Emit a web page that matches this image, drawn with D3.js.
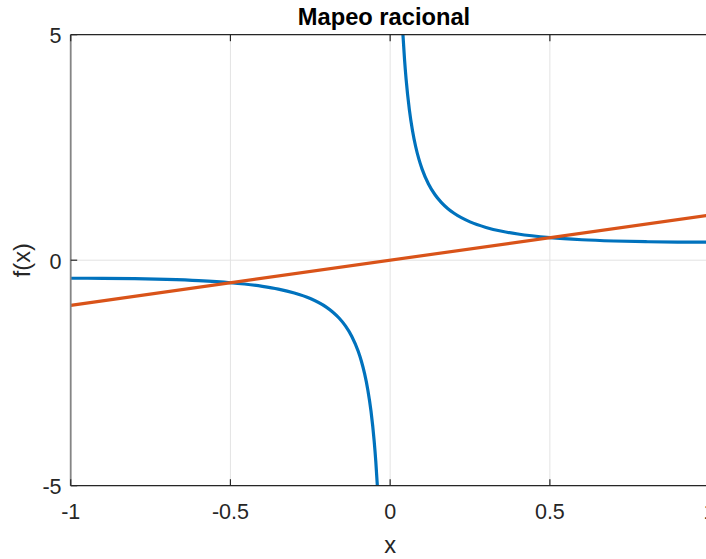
<!DOCTYPE html>
<html>
<head>
<meta charset="utf-8">
<script src="https://cdn.jsdelivr.net/npm/d3@7"></script>
<style>
  html, body { margin: 0; padding: 0; background: #fff; overflow: hidden; }
  svg { display: block; font-family: "Liberation Sans", Arial, Helvetica, sans-serif; }
</style>
</head>
<body>
<svg id="chart" width="706" height="559"></svg>
<script>
// Rational map f(x) sampled on each side of the pole at x = 0
const posX = [0.038, 0.04, 0.045, 0.05, 0.06, 0.07, 0.08, 0.09, 0.1, 0.12, 0.14, 0.16, 0.18, 0.2,
              0.25, 0.3, 0.35, 0.4, 0.5, 0.6, 0.7, 0.8, 0.9, 1.0];
const posY = [5.271, 5.008, 4.453, 4.01, 3.345, 2.871, 2.516, 2.24, 2.02, 1.691, 1.457, 1.282, 1.147, 1.04,
              0.85, 0.727, 0.641, 0.58, 0.5, 0.453, 0.426, 0.41, 0.402, 0.4];
const negX = [-1.0, -0.9, -0.8, -0.7, -0.6, -0.5, -0.4, -0.35, -0.3, -0.25, -0.2, -0.18, -0.16, -0.14,
              -0.12, -0.1, -0.09, -0.08, -0.07, -0.06, -0.05, -0.045, -0.04, -0.038];
const negY = [-0.4, -0.402, -0.41, -0.426, -0.453, -0.5, -0.58, -0.641, -0.727, -0.85, -1.04, -1.147, -1.282, -1.457,
              -1.691, -2.02, -2.24, -2.516, -2.871, -3.345, -4.01, -4.453, -5.008, -5.271];
// Identity line y = x
const idX = [-1, 1];
const idY = [-1, 1];

const xTicks = [-1, -0.5, 0, 0.5, 1];
const yTicks = [-5, 0, 5];
const xTickLabels = ["-1", "-0.5", "0", "0.5", "1"];
const yTickLabels = ["-5", "0", "5"];

const titleText = "Mapeo racional";
const xLabelText = "x";
const yLabelText = "f(x)";

const svg = d3.select("#chart");
const L = 70.7, T = 34.7, R = 709.6, B = 485.7;

const x = d3.scaleLinear().domain([-1, 1]).range([L, R]);
const y = d3.scaleLinear().domain([-5, 5]).range([B, T]);

// grid
const grid = svg.append("g").attr("stroke", "#e3e3e3").attr("stroke-width", 1);
grid.selectAll("line.gx").data(xTicks).join("line")
  .attr("x1", d => x(d)).attr("x2", d => x(d)).attr("y1", T).attr("y2", B);
grid.selectAll("line.gy").data(yTicks).join("line")
  .attr("x1", L).attr("x2", R).attr("y1", d => y(d)).attr("y2", d => y(d));

// clip to the axes box
svg.append("clipPath").attr("id", "plotclip")
  .append("rect").attr("x", L).attr("y", T).attr("width", R - L).attr("height", B - T);

const plot = svg.append("g").attr("clip-path", "url(#plotclip)");
const line = d3.line().x(d => x(d[0])).y(d => y(d[1])).curve(d3.curveMonotoneX);

const branches = [d3.zip(negX, negY), d3.zip(posX, posY)];
plot.selectAll("path.f").data(branches).join("path")
  .attr("fill", "none").attr("stroke", "#0072BD").attr("stroke-width", 3.2)
  .attr("stroke-linejoin", "round")
  .attr("d", line);

plot.append("path").datum(d3.zip(idX, idY))
  .attr("fill", "none").attr("stroke", "#D95319").attr("stroke-width", 3.2)
  .attr("d", d3.line().x(d => x(d[0])).y(d => y(d[1])));

// axes box and ticks
const axisColor = "#262626";
svg.append("line").attr("x1", L).attr("x2", R).attr("y1", T).attr("y2", T)
  .attr("stroke", axisColor).attr("stroke-width", 1.2);
svg.append("line").attr("x1", L).attr("x2", R).attr("y1", B).attr("y2", B)
  .attr("stroke", axisColor).attr("stroke-width", 1.2);
svg.append("line").attr("x1", L).attr("x2", L).attr("y1", T).attr("y2", B)
  .attr("stroke", "#858585").attr("stroke-width", 1.8);

const ticks = svg.append("g").attr("stroke", axisColor).attr("stroke-width", 1.2);
xTicks.forEach(t => {
  ticks.append("line").attr("x1", x(t)).attr("x2", x(t)).attr("y1", B).attr("y2", B - 6.5);
  ticks.append("line").attr("x1", x(t)).attr("x2", x(t)).attr("y1", T).attr("y2", T + 6.5);
});
yTicks.forEach(t => {
  ticks.append("line").attr("x1", L).attr("x2", L + 6.5).attr("y1", y(t)).attr("y2", y(t));
});

// tick labels
svg.append("g").selectAll("text").data(xTicks).join("text")
  .attr("x", d => x(d)).attr("y", B + 33.6)
  .attr("text-anchor", "middle").attr("font-size", 21.5).attr("fill", axisColor)
  .text((d, i) => xTickLabels[i]);
svg.append("g").selectAll("text").data(yTicks).join("text")
  .attr("x", L - 9.2).attr("y", d => y(d) + 8.6)
  .attr("text-anchor", "end").attr("font-size", 21.5).attr("fill", axisColor)
  .text((d, i) => yTickLabels[i]);

// labels and title
svg.append("text").attr("x", (L + R) / 2).attr("y", 553.3)
  .attr("text-anchor", "middle").attr("font-size", 23.7).attr("fill", axisColor)
  .text(xLabelText);
svg.append("text").attr("transform", `translate(30,${(T + B) / 2}) rotate(-90)`)
  .attr("text-anchor", "middle").attr("font-size", 23.7).attr("fill", axisColor)
  .text(yLabelText);
svg.append("text").attr("x", 384).attr("y", 25)
  .attr("text-anchor", "middle").attr("font-size", 23.7).attr("font-weight", "bold").attr("fill", "#000")
  .text(titleText);
</script>
</body>
</html>
